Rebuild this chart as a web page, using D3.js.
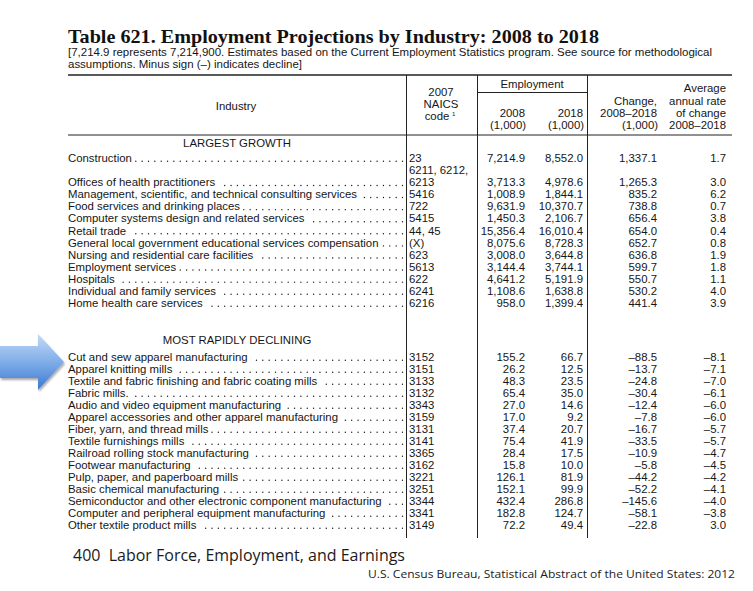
<!DOCTYPE html>
<html><head><meta charset="utf-8">
<script src="https://cdn.jsdelivr.net/npm/d3@7"></script>
<style>
html,body{margin:0;padding:0;background:#fff;}
svg{display:block;}
.sans{font-family:"Liberation Sans",Arial,Helvetica,sans-serif;font-size:11.6px;fill:#161616;}
</style></head>
<body>
<svg id="chart" width="753" height="591"></svg>
<script>
// ---------- data ----------
const titleText = "Table 621. Employment Projections by Industry: 2008 to 2018";
const noteLines = ["[7,214.9 represents 7,214,900. Estimates based on the Current Employment Statistics program. See source for methodological",
                   "assumptions. Minus sign (–) indicates decline]"];
const sectionLabels = ["LARGEST GROWTH", "MOST RAPIDLY DECLINING"];

const growthIndustries = ["Construction","Offices of health practitioners","Management, scientific, and technical consulting services","Food services and drinking places","Computer systems design and related services","Retail trade","General local government educational services compensation","Nursing and residential care facilities","Employment services","Hospitals","Individual and family services","Home health care services"];
const growthCodes = ["23","6211, 6212, 6213","5416","722","5415","44, 45","(X)","623","5613","622","6241","6216"];
const growth2008 = [7214.9,3713.3,1008.9,9631.9,1450.3,15356.4,8075.6,3008.0,3144.4,4641.2,1108.6,958.0];
const growth2018 = [8552.0,4978.6,1844.1,10370.7,2106.7,16010.4,8728.3,3644.8,3744.1,5191.9,1638.8,1399.4];
const growthChange = [1337.1,1265.3,835.2,738.8,656.4,654.0,652.7,636.8,599.7,550.7,530.2,441.4];
const growthRate = [1.7,3.0,6.2,0.7,3.8,0.4,0.8,1.9,1.8,1.1,4.0,3.9];

const declIndustries = ["Cut and sew apparel manufacturing","Apparel knitting mills","Textile and fabric finishing and fabric coating mills","Fabric mills.","Audio and video equipment manufacturing","Apparel accessories and other apparel manufacturing","Fiber, yarn, and thread mills","Textile furnishings mills","Railroad rolling stock manufacturing","Footwear manufacturing","Pulp, paper, and paperboard mills","Basic chemical manufacturing","Semiconductor and other electronic component manufacturing","Computer and peripheral equipment manufacturing","Other textile product mills"];
const declCodes = ["3152","3151","3133","3132","3343","3159","3131","3141","3365","3162","3221","3251","3344","3341","3149"];
const decl2008 = [155.2,26.2,48.3,65.4,27.0,17.0,37.4,75.4,28.4,15.8,126.1,152.1,432.4,182.8,72.2];
const decl2018 = [66.7,12.5,23.5,35.0,14.6,9.2,20.7,41.9,17.5,10.0,81.9,99.9,286.8,124.7,49.4];
const declChange = [-88.5,-13.7,-24.8,-30.4,-12.4,-7.8,-16.7,-33.5,-10.9,-5.8,-44.2,-52.2,-145.6,-58.1,-22.8];
const declRate = [-8.1,-7.1,-7.0,-6.1,-6.0,-6.0,-5.7,-5.7,-4.7,-4.5,-4.2,-4.1,-4.0,-3.8,3.0];

const footerLeft = "400  Labor Force, Employment, and Earnings";
const footerRight = "U.S. Census Bureau, Statistical Abstract of the United States: 2012";

// ---------- drawing ----------
const svg = d3.select("#chart");
const fmt = v => d3.format(",.1f")(v).replace("−","–");

// horizontal compression for the narrow Helvetica look
const probe = svg.append("text").attr("class","sans").text("Management, scientific, and technical consulting services");
const SX = 289 / probe.node().getComputedTextLength();
probe.remove();

function txt(x, y, s, anchor) {
  return svg.append("text").attr("class","sans")
    .attr("transform", `translate(${x},${y}) scale(${SX},1)`)
    .attr("text-anchor", anchor || "start").text(s);
}

// column scale
const colX = d3.scaleOrdinal()
  .domain(["ind","code","e08","e18","chg","rate"])
  .range([68, 409, 525, 583, 657, 726]);

// arrow
const defs = svg.append("defs");
const grad = defs.append("linearGradient").attr("id","ag").attr("x1",0).attr("y1",0).attr("x2",0).attr("y2",1);
grad.append("stop").attr("offset","0%").attr("stop-color","#c3dbf7");
grad.append("stop").attr("offset","55%").attr("stop-color","#79a8e6");
grad.append("stop").attr("offset","100%").attr("stop-color","#3d78d0");
const sh = defs.append("filter").attr("id","sh").attr("x","-20%").attr("y","-20%").attr("width","150%").attr("height","150%");
sh.append("feGaussianBlur").attr("in","SourceAlpha").attr("stdDeviation",1.2).attr("result","b");
sh.append("feOffset").attr("in","b").attr("dx",1).attr("dy",1.5).attr("result","o");
sh.append("feComponentTransfer").attr("in","o").attr("result","o2").append("feFuncA").attr("type","linear").attr("slope",0.35);
const mg = sh.append("feMerge"); mg.append("feMergeNode").attr("in","o2"); mg.append("feMergeNode").attr("in","SourceGraphic");
svg.append("path").attr("d","M0,346 L38,346 L38,334 L64,362 L38,390 L38,378 L0,378 Z")
  .attr("fill","url(#ag)").attr("filter","url(#sh)");

// title
svg.append("text").attr("x",68).attr("y",43)
  .attr("font-family","'Liberation Serif','Times New Roman',serif").attr("font-weight","bold")
  .attr("font-size","19.5px").attr("fill","#111")
  .attr("textLength",531).attr("lengthAdjust","spacingAndGlyphs").text(titleText);
noteLines.forEach((s,i)=>{
  svg.append("text").attr("class","sans").style("font-size","11px").attr("x",68).attr("y",56+i*12)
    .attr("textLength", i===0 ? 644 : 234).attr("lengthAdjust","spacingAndGlyphs").text(s);
});

// rules
const line = (x1,y1,x2,y2,w) => svg.append("line").attr("x1",x1).attr("y1",y1).attr("x2",x2).attr("y2",y2)
  .attr("stroke","#222").attr("stroke-width",w||1);
line(68,75,732,75,1.6);
line(68,135,732,135,1);
line(477,92.5,587,92.5,1);
[406.5, 477.5, 587.5].forEach(x => line(x,75,x,538,1));

// header
txt(236,110,"Industry","middle");
txt(441,96,"2007","middle"); txt(441,108,"NAICS","middle");
txt(437,120,"code","middle");
svg.append("text").attr("class","sans").style("font-size","6px").attr("x",452).attr("y",116).text("1");
txt(532,88,"Employment","middle");
txt(colX("e08"),117,"2008","end"); txt(colX("e08")+1,129,"(1,000)","end");
txt(colX("e18"),117,"2018","end"); txt(colX("e18")+1,129,"(1,000)","end");
txt(colX("chg"),105,"Change,","end"); txt(colX("chg"),117,"2008–2018","end"); txt(colX("chg")+1,129,"(1,000)","end");
txt(colX("rate"),92,"Average","end"); txt(colX("rate"),105,"annual rate","end");
txt(colX("rate"),117,"of change","end"); txt(colX("rate"),129,"2008–2018","end");

// row scales
const growthSlots = d3.range(growthIndustries.length + 1);
const yGrowth = d3.scalePoint().domain(growthSlots).range([158, 303]);
const yDecl = d3.scalePoint().domain(d3.range(declIndustries.length)).range([357, 525]);

txt(237, 147, sectionLabels[0], "middle");
txt(237, 344, sectionLabels[1], "middle");

function drawRow(cy, name, code, v08, v18, chg, rate, step) {
  const b = cy + 4;
  const t = txt(colX("ind"), b, name, "start");
  const endX = colX("ind") + t.node().getComputedTextLength() * SX;
  // dot leaders on a fixed grid
  for (let x = 402.5; x > endX + 3.5; x -= 6.35) {
    svg.append("circle").attr("cx",x).attr("cy",b-0.7).attr("r",0.7).attr("fill","#1a1a1a");
  }
  const parts = code.split(", ");
  if (parts.length > 2) {
    txt(colX("code"), b - step, parts.slice(0, parts.length-1).join(", ") + ",", "start");
    txt(colX("code"), b, parts[parts.length-1], "start");
  } else {
    txt(colX("code"), b, code, "start");
  }
  txt(colX("e08"), b, fmt(v08), "end");
  txt(colX("e18"), b, fmt(v18), "end");
  txt(colX("chg"), b, fmt(chg), "end");
  txt(colX("rate"), b, fmt(rate), "end");
}

growthIndustries.forEach((n,i)=>{
  const slot = i === 0 ? 0 : i + 1;
  drawRow(yGrowth(slot), n, growthCodes[i], growth2008[i], growth2018[i], growthChange[i], growthRate[i], yGrowth.step());
});
declIndustries.forEach((n,i)=>{
  drawRow(yDecl(i), n, declCodes[i], decl2008[i], decl2018[i], declChange[i], declRate[i], yDecl.step());
});

// footer
svg.append("text").attr("x",73).attr("y",561)
  .attr("font-family","'Open Sans','DejaVu Sans',sans-serif").attr("font-size","15.5px").attr("fill","#1b1b1b")
  .attr("textLength",332).attr("lengthAdjust","spacingAndGlyphs").attr("xml:space","preserve").text(footerLeft);
svg.append("text").attr("x",368).attr("y",578)
  .attr("font-family","'Open Sans','DejaVu Sans',sans-serif").attr("font-size","11.5px").attr("fill","#1b1b1b")
  .attr("textLength",367).attr("lengthAdjust","spacingAndGlyphs").text(footerRight);
</script>
</body></html>
